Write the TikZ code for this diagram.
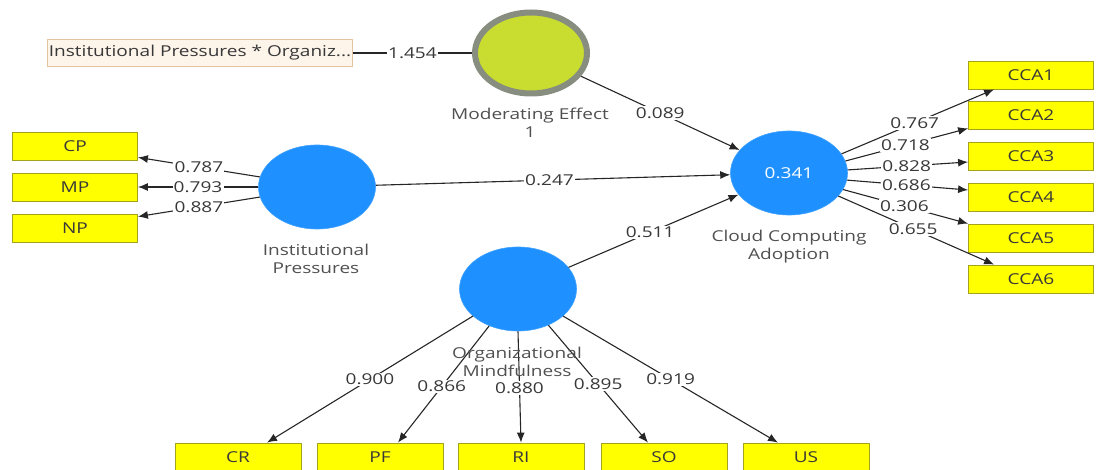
\documentclass[tikz,border=0pt]{standalone}
\usepackage{fontspec}
\setmainfont{Open Sans}[FakeStretch=1.27]
\usetikzlibrary{shapes.geometric,arrows.meta}
\definecolor{ind}{HTML}{FFFF00}
\definecolor{indline}{HTML}{A3A31E}
\definecolor{lv}{HTML}{1E90FF}
\definecolor{modfill}{HTML}{C9DC30}
\definecolor{modline}{HTML}{878E80}
\definecolor{intfill}{HTML}{FDF4EA}
\definecolor{intline}{HTML}{E3C4A2}
\definecolor{txt}{HTML}{383838}
\definecolor{caption}{HTML}{505050}
\begin{document}
\begin{tikzpicture}[x=1pt,y=-1pt,
  font=\fontsize{15}{18}\selectfont, text=txt,
  indbox/.style={draw=indline, fill=ind, line width=0.8pt, minimum width=125pt,
    minimum height=28pt, inner sep=0pt},
  latent/.style={ellipse, fill=lv, draw=lv!85!white, line width=0.6pt, inner sep=0pt,
    minimum width=117pt, minimum height=84pt},
  caption/.style={text=caption, align=center},
  conn/.style={draw=black!85, line width=1.1pt, -{Latex[length=10pt,width=8pt]}},
  lbl/.style={fill=white, inner sep=1.2pt, text=txt}]
\useasboundingbox (0,0) rectangle (1096,470);

% interaction term and moderating construct
\node[draw=intline, fill=intfill, line width=0.8pt, minimum width=305pt, minimum height=27pt,
  inner sep=0pt] (inter) at (200,53) {Institutional Pressures * Organiz...};
\node[ellipse, fill=modfill, draw=modline, line width=6pt, minimum width=112pt,
  minimum height=81pt, inner sep=0pt] (mod) at (531,53) {};

% latent variables
\node[latent] (ip) at (317,187) {};
\node[latent, text=white] (cca) at (789,173) {0.341};
\node[latent] (om) at (518,289) {};

% indicators of Institutional Pressures
\node[indbox] (cp) at (75,146) {CP};
\node[indbox] (mp) at (75,187) {MP};
\node[indbox] (np) at (75,228) {NP};

% indicators of Cloud Computing Adoption
\node[indbox] (cca1) at (1031,75) {CCA1};
\node[indbox] (cca2) at (1031,115) {CCA2};
\node[indbox] (cca3) at (1031,156) {CCA3};
\node[indbox] (cca4) at (1031,197) {CCA4};
\node[indbox] (cca5) at (1031,238) {CCA5};
\node[indbox] (cca6) at (1031,279) {CCA6};

% indicators of Organizational Mindfulness
\node[indbox, minimum width=126pt] (cr) at (238,457) {CR};
\node[indbox, minimum width=126pt] (pf) at (380,457) {PF};
\node[indbox, minimum width=126pt] (ri) at (521,457) {RI};
\node[indbox, minimum width=126pt] (so) at (664,457) {SO};
\node[indbox, minimum width=126pt] (us) at (806,457) {US};

% structural paths
\draw[draw=black!85, line width=1.1pt] (inter) -- node[lbl]{1.454} (mod);
\draw[conn] (mod) -- node[lbl, pos=0.5]{0.089} (cca);
\draw[conn] (ip) -- node[lbl, pos=0.49]{0.247} (cca);
\draw[conn] (om) -- node[lbl, pos=0.48]{0.511} (cca);

% outer loadings, Institutional Pressures
\draw[conn] (ip.170) -- node[lbl]{0.787} ([yshift=3pt]cp.south east);
\draw[conn] (ip.west) -- node[lbl]{0.793} (mp.east);
\draw[conn] (ip.190) -- node[lbl]{0.887} ([yshift=-3pt]np.north east);

% outer loadings, Cloud Computing Adoption
\draw[conn] (cca.20) -- node[lbl, pos=0.48]{0.767} ([xshift=26pt]cca1.south west);
\draw[conn] (cca.12) -- node[lbl, pos=0.49]{0.718} ([yshift=1pt]cca2.south west);
\draw[conn] (cca.3) -- node[lbl, pos=0.49]{0.828} ([yshift=-6pt]cca3.west);
\draw[conn] (cca.-7) -- node[lbl, pos=0.49]{0.686} ([yshift=7pt]cca4.west);
\draw[conn] (cca.-17) -- node[lbl, pos=0.49]{0.306} (cca5.north west);
\draw[conn] (cca.-25) -- node[lbl, pos=0.48]{0.655} ([xshift=26pt]cca6.north west);

% outer loadings, Organizational Mindfulness
\draw[conn] (om.211) -- node[lbl, pos=0.5]{0.900} ([xshift=29pt]cr.north);
\draw[conn] (om.232) -- node[lbl, pos=0.52]{0.866} ([xshift=18pt]pf.north);
\draw[conn] (om.-90) -- node[lbl, pos=0.51]{0.880} (ri.north);
\draw[conn] (om.-50) -- node[lbl, pos=0.5]{0.895} ([xshift=-16pt]so.north);
\draw[conn] (om.-31) -- node[lbl, pos=0.5]{0.919} ([xshift=-28pt]us.north);

% construct captions
\node[caption] (modcap) at (530,123) {Moderating Effect\\1};
\node[caption] (ipcap) at (316,259) {Institutional\\Pressures};
\node[caption] (ccacap) at (789,247) {Cloud Computing\\Adoption};
\node[caption] (omcap) at (517,362) {Organizational\\Mindfulness};
\end{tikzpicture}
\end{document}
